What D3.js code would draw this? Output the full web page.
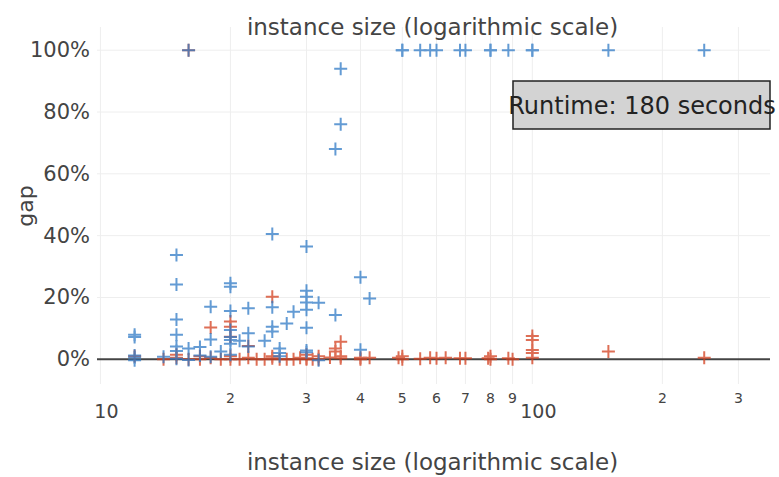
<!DOCTYPE html>
<html>
<head>
<meta charset="utf-8">
<script src="https://cdn.jsdelivr.net/npm/d3@7"></script>
<style>
  body { margin: 0; background: #fff; }
  text { font-family: 'DejaVu Sans', verdana, arial, sans-serif; fill: #444; }
</style>
</head>
<body>
<svg id="chart" width="779" height="477"></svg>
<script>
  // instance size / gap (percent) for the two runs
  const blueSize = [16, 50, 50, 55, 58, 60, 68, 70, 80, 80, 88, 100, 100, 150, 250,
    36, 36, 35, 25, 30, 15, 15, 40, 20, 20, 30, 30, 42, 30, 32, 18, 25, 22, 30, 20, 28, 35,
    15, 27, 25, 30, 25, 20, 22, 15, 12, 12, 20, 20, 21, 18, 24, 20, 15, 17, 22, 16, 26, 40,
    30, 15, 19, 20, 17, 12, 12, 14, 18, 26, 12, 16, 15, 32, 26, 30];
  const blueGap = [100, 100, 100, 100, 100, 100, 100, 100, 100, 100, 100, 100, 100, 100, 100,
    94, 76, 68, 40.5, 36.5, 33.7, 24.2, 26.5, 24.6, 23.5, 22.2, 20.2, 19.7, 18.4, 18.3, 17, 16.8, 16.5, 16, 15.6, 15.4, 14.3,
    12.9, 11.6, 10.5, 10.2, 9, 9.5, 8.4, 7.9, 7.9, 7.2, 7.2, 6.2, 6, 6.4, 6, 5, 4.1, 4, 4.1, 3.5, 3.5, 3.1,
    2.8, 2.7, 2.5, 1.5, 1.2, 1.2, 0.6, 0.8, 0.8, 1, -0.3, -0.2, 0.2, -0.3, 2, 2.3];

  const redSize = [16, 12, 14, 15, 15, 16, 17, 17, 18, 18, 19, 20, 20, 20, 20, 20, 21, 22, 22, 23, 24,
    25, 25, 25, 26, 27, 28, 29, 30, 30, 30, 31, 32, 32, 34, 35, 35, 36, 36, 36, 40, 40, 42,
    49, 50, 50, 55, 58, 60, 63, 68, 70, 79, 80, 80, 88, 90, 100, 100, 100, 100, 100, 150, 250];
  const redGap = [100, 1, 0, 0.5, 1.5, 0, 1, 0, 10.3, 0.5, 0, 12.2, 10.5, 7.3, 1, 0, 0, 4.3, 0.5, 0, 0,
    20.2, 0.3, 1, 0, 0, 0, 0.5, 1.5, 0, 0.3, 0, 1, 0, 0.6, 2.5, 3.5, 5.7, 1, 0.3, 0.5, 0, 0.5,
    0.5, 0, 1, 0.2, 0.5, 0.3, 0.5, 0.3, 0.3, 0.3, 0, 1, 0.3, 0, 7.5, 6.2, 3, 2, 0.5, 2.5, 0.5];

  const yTicks = [0, 0.2, 0.4, 0.6, 0.8, 1];
  const xMajor = [10, 100];
  const xMinor = [20, 30, 40, 50, 60, 70, 80, 90, 200, 300];

  const svg = d3.select('#chart');
  const x = d3.scaleLog().domain([9.82, 355]).range([97, 770]);
  const y = d3.scaleLinear().domain([-0.08, 1.075]).range([384, 27]);

  // grid
  svg.selectAll('.vgrid')
    .data(xMajor.concat(xMinor))
    .enter().append('line')
    .attr('x1', (d) => x(d)).attr('x2', (d) => x(d))
    .attr('y1', y.range()[1]).attr('y2', y.range()[0])
    .attr('stroke', '#eee').attr('stroke-width', 1);

  svg.selectAll('.hgrid')
    .data(yTicks.filter((d) => d !== 0))
    .enter().append('line')
    .attr('x1', x.range()[0]).attr('x2', x.range()[1])
    .attr('y1', (d) => y(d)).attr('y2', (d) => y(d))
    .attr('stroke', '#eee').attr('stroke-width', 1);

  // zero line
  svg.append('line')
    .attr('x1', x.range()[0]).attr('x2', x.range()[1])
    .attr('y1', y(0)).attr('y2', y(0))
    .attr('stroke', '#444').attr('stroke-width', 2);

  // y tick labels
  svg.selectAll('.ylab')
    .data(yTicks)
    .enter().append('text')
    .attr('x', 90).attr('y', (d) => y(d))
    .attr('text-anchor', 'end')
    .attr('dominant-baseline', 'central')
    .style('font-size', '21px')
    .text((d) => d3.format('.0%')(d));

  // x tick labels
  svg.selectAll('.xmaj')
    .data(xMajor)
    .enter().append('text')
    .attr('x', (d) => x(d) + 6).attr('y', 418)
    .attr('text-anchor', 'middle')
    .style('font-size', '19px')
    .text((d) => d);

  svg.selectAll('.xmin')
    .data(xMinor)
    .enter().append('text')
    .attr('x', (d) => x(d)).attr('y', 403)
    .attr('text-anchor', 'middle')
    .style('font-size', '14px')
    .text((d) => String(d)[0]);

  // titles
  const midX = (x.range()[0] + x.range()[1]) / 2;
  svg.append('text')
    .attr('x', midX - 1).attr('y', 35)
    .attr('text-anchor', 'middle')
    .style('font-size', '23px')
    .text('instance size (logarithmic scale)');

  svg.append('text')
    .attr('x', midX - 1).attr('y', 470)
    .attr('text-anchor', 'middle')
    .style('font-size', '23px')
    .text('instance size (logarithmic scale)');

  svg.append('text')
    .attr('transform', 'translate(25,206) rotate(-90)')
    .attr('text-anchor', 'middle')
    .attr('dominant-baseline', 'central')
    .style('font-size', '22px')
    .text('gap');

  // markers
  const drawSeries = (sizes, gaps, color) => {
    const pts = sizes.map((s, i) => ({ s, g: gaps[i] / 100 }));
    const g = svg.append('g')
      .attr('stroke', color).attr('stroke-width', 2).attr('opacity', 0.75);
    g.selectAll('path')
      .data(pts)
      .enter().append('path')
      .attr('fill', 'none')
      .attr('d', (d) => {
        const cx = x(d.s), cy = y(d.g), r = 6.5;
        return `M${cx - r},${cy}H${cx + r}M${cx},${cy - r}V${cy + r}`;
      });
  };

  drawSeries(redSize, redGap, '#d43f1e');
  drawSeries(blueSize, blueGap, '#2f7ac6');

  // annotation
  svg.append('rect')
    .attr('x', 513).attr('y', 81)
    .attr('width', 257).attr('height', 48)
    .attr('fill', '#d3d3d3')
    .attr('stroke', '#222').attr('stroke-width', 1.5);

  svg.append('text')
    .attr('x', 642).attr('y', 114)
    .attr('text-anchor', 'middle')
    .style('font-size', '24px')
    .style('fill', '#222')
    .text('Runtime: 180 seconds');
</script>
</body>
</html>
